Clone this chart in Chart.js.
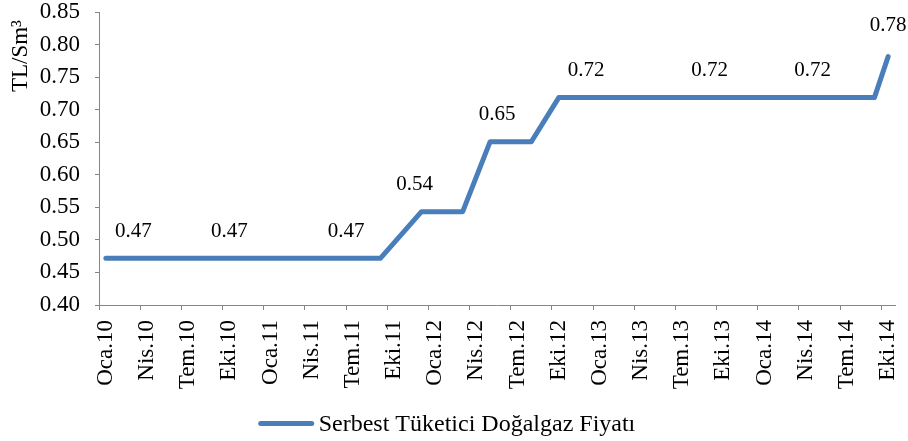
<!DOCTYPE html>
<html>
<head>
<meta charset="utf-8">
<script src="https://cdn.jsdelivr.net/npm/chart.js@4.4.1/dist/chart.umd.min.js"></script>
<style>
  html, body { margin: 0; padding: 0; background: #ffffff; }
  #wrap { width: 908px; height: 441px; position: relative; }
</style>
</head>
<body>
<div id="wrap"><canvas id="c" width="908" height="441"></canvas></div>
<script>
// ---- data ----
const monthNames = ['Oca','Şub','Mar','Nis','May','Haz','Tem','Ağu','Eyl','Eki','Kas','Ara'];
const yearCodes = ['10','11','12','13','14'];
const categories = yearCodes.flatMap(y => monthNames.map(m => m + '.' + y)).slice(0, 58); // Oca.10 .. Eki.14
const tickEvery = 3;
const seriesName = 'Serbest Tüketici Doğalgaz Fiyatı';
const yTitle = 'TL/Sm³';
// monthly values (TL/Sm³); null = no reading, line spans the gap
const prices = [
  0.4717,0.4717,0.4717,0.4717,0.4717,0.4717,0.4717,0.4717,0.4717,0.4717,0.4717,0.4717, // 2010
  0.4717,0.4717,0.4717,0.4717,0.4717,0.4717,0.4717,0.4717,0.4717,null,null,0.5433,    // 2011
  0.5433,0.5433,0.5433,null,0.6508,0.6508,0.6508,0.6508,null,0.7185,0.7185,0.7185,    // 2012
  0.7185,0.7185,0.7185,0.7185,0.7185,0.7185,0.7185,0.7185,0.7185,0.7185,0.7185,0.7185, // 2013
  0.7185,0.7185,0.7185,0.7185,0.7185,0.7185,0.7185,0.7185,0.7185,0.7815               // 2014
];
// category positions where a value label is shown
const labelPositions = [2, 9, 17.5, 22.5, 28.5, 35, 44, 51.5, 57];
const yMin = 0.40, yMax = 0.85, yStep = 0.05;

// ---- styles ----
const FONT = "'Liberation Serif', 'Times New Roman', serif";
const LINE_COLOR = '#4a7ebb';
const AXIS_COLOR = '#868686';

const extras = {
  id: 'extras',
  afterDatasetsDraw(chart) {
    const ctx = chart.ctx;
    const xs = chart.scales.x, ys = chart.scales.y;
    ctx.save();
    ctx.fillStyle = '#000';
    ctx.font = '21px ' + FONT;
    ctx.textAlign = 'center';
    ctx.textBaseline = 'middle';
    labelPositions.forEach((p, k) => {
      const v = prices[Math.round(p)];
      if (v == null) return;
      const x = xs.getPixelForValue(p);
      const lift = (k === labelPositions.length - 1) ? 31 : 27;
      const y = ys.getPixelForValue(v) - lift;
      ctx.fillText(v.toFixed(2), x, y);
    });
    ctx.restore();
  },
  afterDraw(chart) {
    const ctx = chart.ctx;
    ctx.save();
    // y axis title
    ctx.fillStyle = '#000';
    ctx.font = '23px ' + FONT;
    ctx.translate(21, 20);
    ctx.rotate(-Math.PI / 2);
    ctx.textAlign = 'right';
    ctx.textBaseline = 'middle';
    ctx.fillText(yTitle, 0, 0);
    ctx.restore();

    // legend
    ctx.save();
    ctx.font = '24px ' + FONT;
    const tw = ctx.measureText(seriesName).width;
    const lineLen = 55, gap = 5;
    const total = lineLen + gap + tw;
    const cx = 447;
    const x0 = cx - total / 2;
    const ly = 423.5;
    ctx.strokeStyle = LINE_COLOR;
    ctx.lineWidth = 5;
    ctx.lineCap = 'round';
    ctx.beginPath();
    ctx.moveTo(x0 + 2, ly);
    ctx.lineTo(x0 + lineLen - 2, ly);
    ctx.stroke();
    ctx.fillStyle = '#000';
    ctx.textAlign = 'left';
    ctx.textBaseline = 'middle';
    ctx.fillText(seriesName, x0 + lineLen + gap, ly + 1);
    ctx.restore();
  }
};

new Chart(document.getElementById('c'), {
  type: 'line',
  data: {
    labels: categories,
    datasets: [{
      label: seriesName,
      data: prices,
      borderColor: LINE_COLOR,
      backgroundColor: LINE_COLOR,
      borderWidth: 5,
      pointRadius: 0,
      pointHoverRadius: 0,
      tension: 0,
      spanGaps: true,
      borderJoinStyle: 'round',
      borderCapStyle: 'round',
      fill: false
    }]
  },
  options: {
    responsive: false,
    animation: false,
    devicePixelRatio: 1,
    layout: { padding: { left: 0, right: 13, top: 12, bottom: 36 } },
    plugins: {
      legend: { display: false },
      tooltip: { enabled: false },
      title: { display: false }
    },
    scales: {
      x: {
        type: 'category',
        offset: true,
        grid: {
          offset: true,
          drawOnChartArea: false,
          drawTicks: true,
          tickLength: 5,
          tickWidth: 1,
          tickColor: (c) => (c.index !== undefined && c.index % tickEvery === 0) ? AXIS_COLOR : 'rgba(0,0,0,0)'
        },
        border: { display: true, color: AXIS_COLOR, width: 1 },
        ticks: {
          autoSkip: false,
          maxRotation: 90,
          minRotation: 90,
          padding: 10,
          color: '#000',
          font: { family: FONT, size: 23 },
          callback: function (val, i) { return i % tickEvery === 0 ? categories[i] : ''; }
        },
        afterFit(scale) {
          scale.height = 100;
          scale.paddingLeft = 0;
          scale.paddingRight = 0;
        }
      },
      y: {
        min: yMin,
        max: yMax,
        grid: {
          drawOnChartArea: false,
          drawTicks: true,
          tickLength: 4,
          color: AXIS_COLOR
        },
        border: { display: true, color: AXIS_COLOR, width: 1 },
        ticks: {
          stepSize: yStep,
          padding: 15,
          color: '#000',
          font: { family: FONT, size: 23 },
          callback: (v) => Number(v).toFixed(2)
        },
        afterFit(scale) {
          scale.width = 99;
          scale.paddingTop = 0;
          scale.paddingBottom = 0;
        }
      }
    }
  },
  plugins: [extras]
});
</script>
</body>
</html>
